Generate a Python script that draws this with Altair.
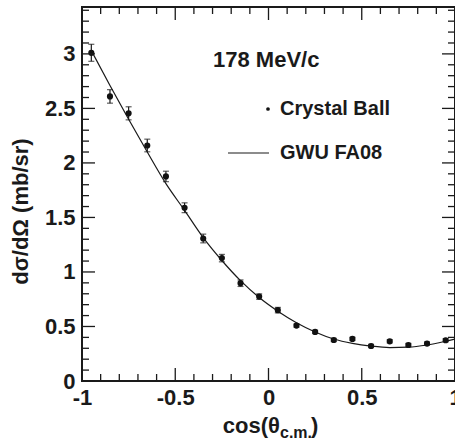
import altair as alt
import pandas as pd

# ---- data ----
cos_theta = [-0.95, -0.85, -0.75, -0.65, -0.55, -0.45, -0.35, -0.25, -0.15, -0.05,
             0.05, 0.15, 0.25, 0.35, 0.45, 0.55, 0.65, 0.75, 0.85, 0.95]
xsec = [3.01, 2.61, 2.455, 2.16, 1.876, 1.589, 1.307, 1.127, 0.897, 0.774,
        0.65, 0.508, 0.45, 0.376, 0.386, 0.321, 0.364, 0.33, 0.343, 0.374]
xsec_err = [0.078, 0.062, 0.06, 0.058, 0.048, 0.045, 0.04, 0.034, 0.03, 0.025,
            0.025, 0.015, 0.015, 0.015, 0.015, 0.015, 0.015, 0.015, 0.015, 0.015]

fit_x = [-0.95, -0.85, -0.75, -0.65, -0.55, -0.45, -0.35, -0.25, -0.15, -0.05,
         0.05, 0.15, 0.25, 0.35, 0.45, 0.55, 0.65, 0.75, 0.85, 0.95, 1.0]
fit_y = [3.03, 2.71, 2.40, 2.10, 1.81, 1.565, 1.315, 1.105, 0.92, 0.765,
         0.64, 0.535, 0.45, 0.385, 0.345, 0.32, 0.307, 0.31, 0.33, 0.365, 0.385]

x_major = [-1, -0.5, 0, 0.5, 1]
x_minor = [-0.9, -0.8, -0.7, -0.6, -0.4, -0.3, -0.2, -0.1,
           0.1, 0.2, 0.3, 0.4, 0.6, 0.7, 0.8, 0.9]
y_major = [0, 0.5, 1, 1.5, 2, 2.5, 3]
y_minor = [0.1, 0.2, 0.3, 0.4, 0.6, 0.7, 0.8, 0.9, 1.1, 1.2, 1.3, 1.4,
           1.6, 1.7, 1.8, 1.9, 2.1, 2.2, 2.3, 2.4, 2.6, 2.7, 2.8, 2.9,
           3.1, 3.2, 3.3, 3.4]

energy_label = ["178 MeV/c"]
data_label = ["Crystal Ball"]
fit_label = ["GWU FA08"]
x_title_main = ["cos(θ"]
x_title_sub = ["c.m."]
x_title_close = [")"]
y_title = "dσ/dΩ (mb/sr)"

# ---- layout ----
W, H = 373, 374
FONT = "Liberation Sans"
MAJ, MIN = 13, 7

pts = pd.DataFrame({"x": cos_theta, "y": xsec, "e": xsec_err})
pts["lo"] = pts["y"] - pts["e"]
pts["hi"] = pts["y"] + pts["e"]
fit = pd.DataFrame({"x": fit_x, "y": fit_y})

xs = alt.Scale(domain=[-1, 1], nice=False, zero=False)
ys = alt.Scale(domain=[0, 3.43], nice=False, zero=False)

x_axis = alt.Axis(values=x_major, ticks=False, domain=False, grid=False,
                  labelExpr="toString(datum.value)", labelFont=FONT,
                  labelFontSize=22, labelFontWeight="bold", labelColor="#1a1a1a",
                  labelPadding=6, labelFlush=False, labelOverlap=False, title=None)
y_axis = alt.Axis(values=y_major, ticks=False, domain=False, grid=False,
                  labelExpr="toString(datum.value)", labelFont=FONT,
                  labelFontSize=22, labelFontWeight="bold", labelColor="#1a1a1a",
                  labelPadding=7, labelOverlap=False,
                  title=y_title, titleFont=FONT, titleFontSize=22,
                  titleFontWeight="bold", titleColor="#1a1a1a",
                  titleAngle=270, titleX=-62, titleY=204,
                  titleAlign="center", titleBaseline="middle")


def X(field):
    return alt.X(field, scale=xs, axis=x_axis)


def Y(field):
    return alt.Y(field, scale=ys, axis=y_axis)


curve = alt.Chart(fit).mark_line(color="#1a1a1a", strokeWidth=1.2,
                                 interpolate="monotone").encode(
    x=X("x:Q"), y=Y("y:Q"))

bars = alt.Chart(pts).mark_rule(color="#1a1a1a", strokeWidth=1.2).encode(
    x=X("x:Q"), y=Y("lo:Q"), y2="hi:Q")
caps_lo = alt.Chart(pts).mark_tick(color="#1a1a1a", orient="horizontal",
                                   size=6, thickness=1.2).encode(
    x=X("x:Q"), y=Y("lo:Q"))
caps_hi = alt.Chart(pts).mark_tick(color="#1a1a1a", orient="horizontal",
                                   size=6, thickness=1.2).encode(
    x=X("x:Q"), y=Y("hi:Q"))
dots = alt.Chart(pts).mark_point(filled=True, shape="circle", size=38,
                                 color="#111111", opacity=1).encode(
    x=X("x:Q"), y=Y("y:Q"))


def xticks(vals, length):
    df = pd.DataFrame({"v": vals})
    base = alt.Chart(df).mark_rule(color="#1a1a1a", strokeWidth=1.3)
    bottom = base.encode(x=X("v:Q"), y=alt.value(H), y2=alt.value(H - length))
    top = base.encode(x=X("v:Q"), y=alt.value(0), y2=alt.value(length))
    return [bottom, top]


def yticks(vals, length):
    df = pd.DataFrame({"v": vals})
    base = alt.Chart(df).mark_rule(color="#1a1a1a", strokeWidth=1.3)
    left = base.encode(y=Y("v:Q"), x=alt.value(0), x2=alt.value(length))
    right = base.encode(y=Y("v:Q"), x=alt.value(W), x2=alt.value(W - length))
    return [left, right]


tick_layers = (xticks(x_major, MAJ) + xticks(x_minor, MIN)
               + yticks(y_major, MAJ) + yticks(y_minor, MIN))


def label(texts, x, y, size, align="left", baseline="middle"):
    return alt.Chart(pd.DataFrame({"t": texts})).mark_text(
        font=FONT, fontSize=size, fontWeight="bold", color="#1a1a1a",
        align=align, baseline=baseline).encode(
        x=alt.value(x), y=alt.value(y), text="t:N")


energy = label(energy_label, 131, 53, 22)
leg_data_txt = label(data_label, 198, 102, 20)
leg_fit_txt = label(fit_label, 198, 146, 20)
leg_dot = alt.Chart(pd.DataFrame({"t": data_label})).mark_point(
    filled=True, shape="circle", size=14, color="#111111", opacity=1).encode(
    x=alt.value(186), y=alt.value(102))
leg_line = alt.Chart(pd.DataFrame({"t": fit_label})).mark_rule(
    color="#1a1a1a", strokeWidth=1.2).encode(
    x=alt.value(146), x2=alt.value(187), y=alt.value(146))

xt_main = label(x_title_main, 198, 426, 22, align="right", baseline="alphabetic")
xt_sub = label(x_title_sub, 198, 431, 16, align="left", baseline="alphabetic")
xt_close = label(x_title_close, 229, 426, 22, align="left", baseline="alphabetic")

chart = alt.layer(
    curve, bars, caps_lo, caps_hi, dots, *tick_layers,
    energy, leg_data_txt, leg_fit_txt, leg_dot, leg_line,
    xt_main, xt_sub, xt_close,
).properties(
    width=W, height=H,
    autosize=alt.AutoSizeParams(type="none"),
    padding={"left": 82, "top": 7, "right": 0, "bottom": 60},
    background="white",
).configure_view(stroke="#1a1a1a", strokeWidth=2)

chart.save("out.html", embed_options={"renderer": "svg", "actions": False})
